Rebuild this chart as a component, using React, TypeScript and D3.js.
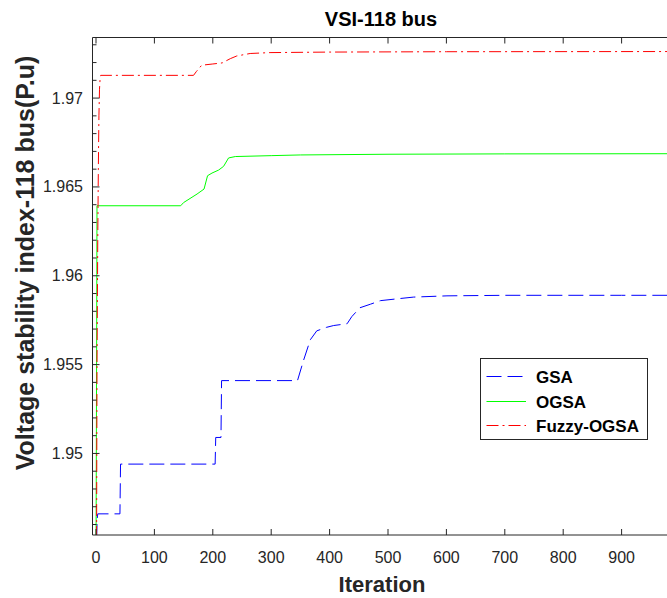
import React from 'react';
import * as d3 from 'd3';

const xTicks = [0, 100, 200, 300, 400, 500, 600, 700, 800, 900];
const yMajor = [1.95, 1.955, 1.96, 1.965, 1.97];
const yMajorLabels = ['1.95', '1.955', '1.96', '1.965', '1.97'];
const yMinor = [1.946, 1.947, 1.948, 1.949, 1.951, 1.952, 1.953, 1.954, 1.956, 1.957, 1.958, 1.959, 1.961, 1.962, 1.963, 1.964, 1.966, 1.967, 1.968, 1.969, 1.971, 1.972, 1.973];

const gsaX = [0, 1, 2, 3, 28, 41, 42, 204, 205, 214, 215, 345, 355, 367, 378, 395, 407, 430, 438, 452, 470, 487, 515, 544, 601, 700, 800, 900, 1000];
const gsaY = [1.944, 1.9452, 1.9463, 1.9466, 1.9466, 1.9466, 1.9494, 1.9494, 1.9509, 1.9509, 1.9541, 1.9541, 1.9552, 1.9564, 1.9569, 1.9571, 1.9572, 1.9573, 1.9577, 1.9582, 1.9584, 1.9586, 1.9587, 1.9588, 1.95887, 1.9589, 1.9589, 1.9589, 1.9589];

const ogsaX = [0, 1, 1.7, 145, 150, 173, 185, 191, 198.6, 210, 218.5, 227, 238.5, 300, 350, 500, 700, 1000];
const ogsaY = [1.944, 1.955, 1.96394, 1.96394, 1.96412, 1.9646, 1.96488, 1.96563, 1.96578, 1.96595, 1.96616, 1.96663, 1.96671, 1.96676, 1.9668, 1.96684, 1.96686, 1.96687];

const fuzzyX = [0, 1, 1.7, 3, 4, 5, 6, 7, 8, 167, 172, 181, 200, 216, 230, 241, 264, 298, 400, 600, 1000];
const fuzzyY = [1.944, 1.9452, 1.955, 1.962, 1.966, 1.969, 1.9705, 1.9711, 1.97128, 1.97128, 1.9715, 1.97185, 1.97192, 1.97198, 1.97222, 1.97237, 1.97251, 1.97256, 1.97259, 1.97261, 1.97262];

const seriesNames = ['GSA', 'OGSA', 'Fuzzy-OGSA'];

const W = 667, H = 598;
const L = 92.5, R = 680, T = 37.5, B = 535;
const AX = '#262626';
const FONT = '"Liberation Sans", Arial, Helvetica, sans-serif';

export default function App() {
  const x = d3.scaleLinear().domain([-6, 1000]).range([L, R]);
  const y = d3.scaleLinear().domain([1.94541, 1.97341]).range([B, T]);
  const line = (xs: number[], ys: number[]) =>
    d3.line<number>().x((d, i) => x(xs[i])).y((d) => y(d))(ys) || '';

  const series = [
    { xs: gsaX, ys: gsaY, color: '#0000ff', dash: '15 6' },
    { xs: ogsaX, ys: ogsaY, color: '#00ff00', dash: '' },
    { xs: fuzzyX, ys: fuzzyY, color: '#ff0000', dash: '12 4 2 4' },
  ];

  const legX = 480.5, legY = 358.5, legW = 167, legH = 81;
  const rowY = [376.5, 401.5, 425.5];

  return (
    <svg width={W} height={H} style={{ position: 'absolute', left: 0, top: 0, background: '#fff' }} fontFamily={FONT}>
      <defs>
        <clipPath id="plotclip">
          <rect x={L} y={T} width={R - L} height={B - T} />
        </clipPath>
      </defs>
      <rect x={0} y={0} width={W} height={H} fill="#fff" />
      <g clipPath="url(#plotclip)">
        {series.map((s, i) => (
          <path key={i} d={line(s.xs, s.ys)} fill="none" stroke={s.color} strokeWidth={1} strokeDasharray={s.dash || undefined} />
        ))}
      </g>
      <line x1={L} x2={R} y1={B} y2={B} stroke={AX} strokeWidth={1} />
      <line x1={L} x2={R} y1={T} y2={T} stroke={AX} strokeWidth={1} />
      <line x1={L} x2={L} y1={T} y2={B} stroke={AX} strokeWidth={1} />
      <line x1={R} x2={R} y1={T} y2={B} stroke={AX} strokeWidth={1} />
      {xTicks.map((t) => (
        <g key={'xt' + t}>
          <line x1={x(t)} x2={x(t)} y1={B} y2={B - 6} stroke={AX} />
          <line x1={x(t)} x2={x(t)} y1={T} y2={T + 6} stroke={AX} />
          <text x={x(t)} y={562.5} textAnchor="middle" fontSize={16} fill={AX}>{t}</text>
        </g>
      ))}
      {yMajor.map((t, i) => (
        <g key={'ym' + t}>
          <line x1={L} x2={L + 7} y1={y(t)} y2={y(t)} stroke={AX} />
          <text x={83} y={y(t) + 5.5} textAnchor="end" fontSize={16} fill={AX}>{yMajorLabels[i]}</text>
        </g>
      ))}
      {yMinor.map((t) => (
        <line key={'yn' + t} x1={L} x2={L + 4} y1={y(t)} y2={y(t)} stroke={AX} />
      ))}
      <text x={381} y={26} textAnchor="middle" fontSize={20} fontWeight="bold" fill="#000">VSI-118 bus</text>
      <text x={382} y={592} textAnchor="middle" fontSize={22} fontWeight="bold" fill={AX}>Iteration</text>
      <text transform={`translate(34,263) rotate(-90)`} textAnchor="middle" fontSize={25} fontWeight="bold" fill={AX}>Voltage stability index-118 bus(P.u)</text>
      <rect x={legX} y={legY} width={legW} height={legH} fill="#fff" stroke={AX} strokeWidth={1} />
      {series.map((s, i) => (
        <g key={'lg' + i}>
          <line x1={486.5} x2={526} y1={rowY[i]} y2={rowY[i]} stroke={s.color} strokeWidth={1} strokeDasharray={s.dash || undefined} />
          <text x={536} y={rowY[i] + 6} fontSize={17} fontWeight="bold" fill="#000">{seriesNames[i]}</text>
        </g>
      ))}
    </svg>
  );
}
